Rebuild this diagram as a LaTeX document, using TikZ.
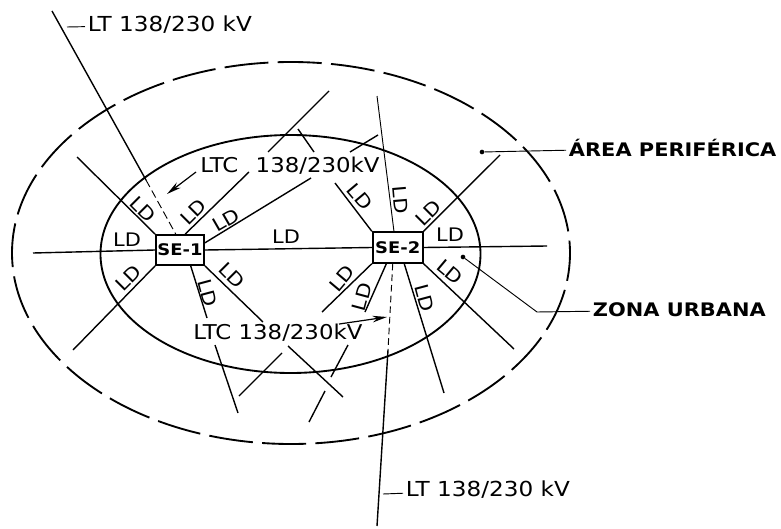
\documentclass[tikz,border=0pt]{standalone}
\usepackage{fontspec}
\usetikzlibrary{arrows.meta}
\setmainfont[FakeStretch=1.12]{DejaVu Sans}

\begin{document}
\begin{tikzpicture}[x=0.75pt, y=-0.75pt,
  feeder/.style={line width=1.05pt},
  ring/.style={line width=1.4pt},
  leader/.style={line width=0.7pt},
  pointer/.style={line width=0.9pt, -{Stealth[length=11pt, width=5pt]}},
  label/.style={font=\fontsize{15.3}{15.3}\selectfont, inner sep=0pt},
  tag/.style={font=\fontsize{15.5}{15.5}\selectfont, inner sep=2pt, anchor=west},
  boldtag/.style={font=\fontsize{14}{14}\selectfont\bfseries, inner sep=2pt, anchor=west},
  ldtag/.style={font=\fontsize{14}{14}\selectfont, inner sep=0pt},
  station/.style={draw, line width=1.3pt, fill=white, minimum width=36pt, minimum height=22.5pt, inner sep=0pt, font=\fontsize{12}{12}\selectfont\bfseries},
  dot/.style={circle, fill, inner sep=0pt, minimum size=3.5pt}]
  \useasboundingbox (0,0) rectangle (781,528);
  \draw[ring, dash pattern=on 33pt off 7pt, dash phase=12pt] (291,253) ellipse (279 and 191);
  \draw[ring] (290.5,254) ellipse (190 and 119);

  \node[station] (se1) at (180,250) {SE-1};
  \node[station, minimum width=37.5pt, minimum height=23pt] (se2) at (397.7,247.5) {SE-2};

  \foreach \nm/\px/\py in {
    a1/33/253, a2/77/157, a3/249/172, a4/268/152, a5/329/91, a6/311/178, a7/350/152, a8/378/135,
    b1/73/350, b2/207/318, b3/215/345, b4/238/413, b5/263/322, b6/288/346, b7/343/397,
    c1/335/183, c2/314/152, c3/298/129, c4/547/246, c5/500/155, c6/514/349, c7/444/393,
    d1/322/312, d2/282/353, d3/239/396, d4/365/312, d5/348/345, d6/331/377, d7/325/391, d8/309/422,
    e1/52/11, e2/146/180, e3/377/96, e4/388/350, e5/377/526}
    \coordinate (\nm) at (\px,\py);

  \draw[feeder] (se1.west) -- (a1);
  \draw[feeder] (se1.north west) -- (a2);
  \draw[feeder] (se1.72) -- (a3);
  \draw[feeder] (a4) -- (a5);
  \draw[feeder] (se1.16) -- (a6);
  \draw[feeder] (a7) -- (a8);
  \draw[feeder] (se1.east) -- (se2.west);
  \draw[feeder] (se1.south west) -- (b1);
  \draw[feeder] (se1.-56) -- (b2);
  \draw[feeder] (b3) -- (b4);
  \draw[feeder] (se1.south east) -- (b5);
  \draw[feeder] (b6) -- (b7);
  \draw[feeder] (se2.north west) -- (c1);
  \draw[feeder] (c2) -- (c3);
  \draw[feeder] (se2.east) -- (c4);
  \draw[feeder] (se2.north east) -- (c5);
  \draw[feeder] (se2.south east) -- (c6);
  \draw[feeder] (se2.-68) -- (c7);
  \draw[feeder] (se2.south west) -- (d1);
  \draw[feeder] (d2) -- (d3);
  \draw[feeder] (se2.-125) -- (d4);
  \draw[feeder] (d5) -- (d6);
  \draw[feeder] (d7) -- (d8);

  \draw[feeder] (e1) -- (e2);
  \draw[leader, dash pattern=on 6pt off 3pt] (e2) -- (se1.105);
  \draw[leader] (e3) -- (se2.103);
  \draw[leader, dash pattern=on 5pt off 3pt] (se2.-107) -- (e4);
  \draw[feeder] (e4) -- (e5);

  \foreach \i/\px/\py/\rr in {
    1/127/240/0, 2/143/209/-45, 3/193/212/45, 4/226/220/30, 5/286/237/0, 6/360/197/-50,
    7/400/200/-85, 8/428/213/45, 9/450/235/0, 10/128/278/45, 11/208/293/-75, 12/232/275/-45,
    13/342/278/50, 14/362/297/75, 15/450/272/-40, 16/425/298/-75}
    \node[ldtag, rotate=\rr] (ld\i) at (\px,\py) {LD};

  \node[tag] (lttop) at (85,25) {LT 138/230 kV};
  \coordinate (lttick) at (67,27);
  \draw[leader] (lttick) -- (lttop);
  \node[tag] (ltbot) at (403,490) {LT 138/230 kV};
  \coordinate (ltbtick) at (383,494);
  \draw[leader] (ltbtick) -- (ltbot);

  \node[label, anchor=west] (ltcup) at (200,166) {LTC\hspace{13pt}138/230kV};
  \coordinate (ltcupa) at (196,172);
  \coordinate (ltcupb) at (167,194);
  \draw[pointer] (ltcupa) -- (ltcupb);
  \node[label, anchor=west] (ltclow) at (193,333) {LTC 138/230kV};
  \coordinate (ltclowa) at (387,317);
  \draw[pointer] (ltclow) -- (ltclowa);

  \node[dot] (areadot) at (482,152) {};
  \node[boldtag] (area) at (566,148) {ÁREA PERIFÉRICA};
  \draw[leader] (areadot) -- (area);
  \node[dot] (zonadot) at (463,257) {};
  \node[boldtag] (zona) at (590,310) {ZONA URBANA};
  \coordinate (zonabend) at (537,312);
  \draw[leader] (zonadot) -- (zonabend) -- (zona);
\end{tikzpicture}
\end{document}
